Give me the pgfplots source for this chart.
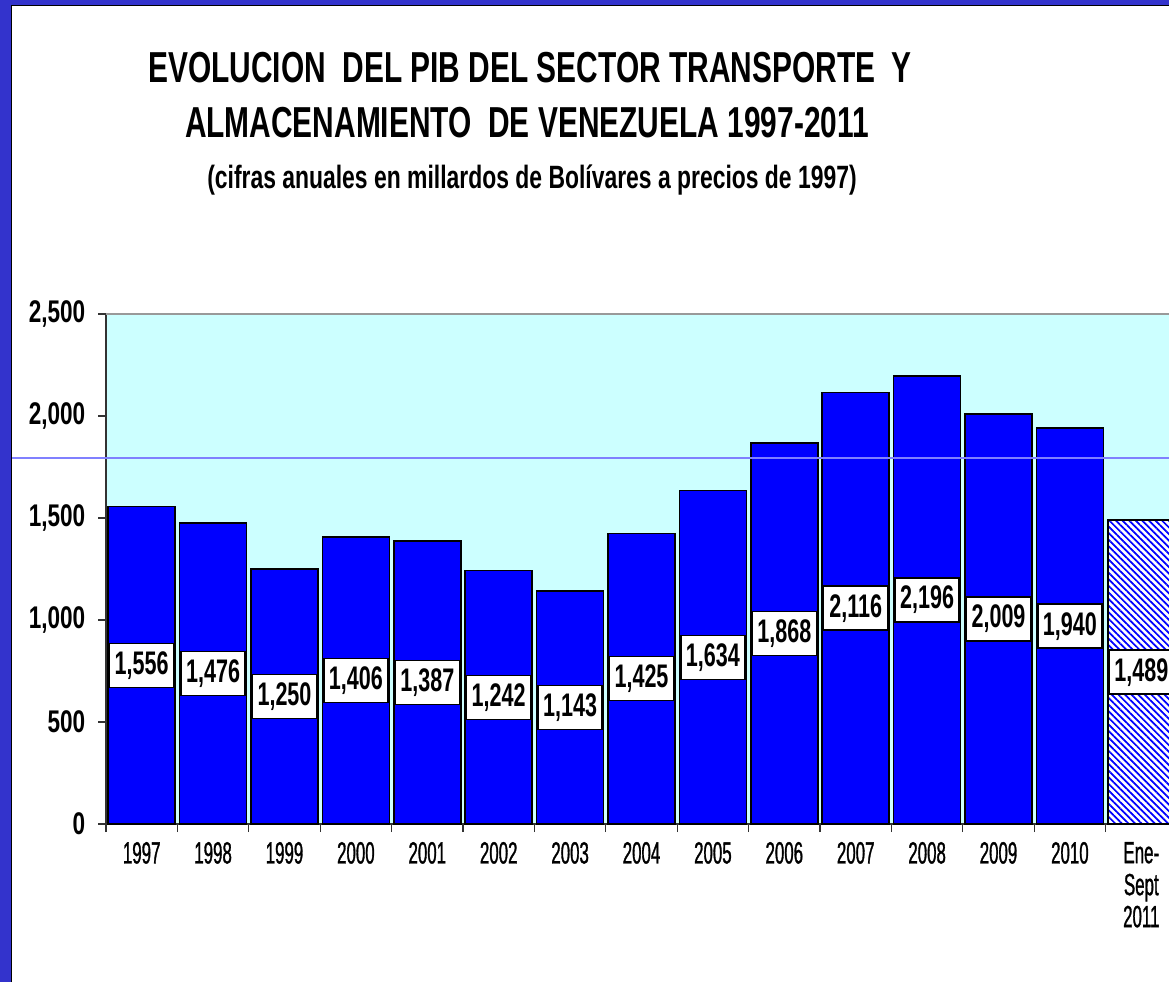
\documentclass[border=0pt]{standalone}
\usepackage{fontspec}
\setmainfont{Liberation Sans}[FakeStretch=0.7]
\newfontfamily\titulo{Liberation Sans}[FakeStretch=0.69]
\newfontfamily\subtitulo{Liberation Sans}[FakeStretch=0.71]
\newfontfamily\ejey{Liberation Sans}[FakeStretch=0.72]
\newfontfamily\ejex{Liberation Sans}[FakeStretch=0.55, FakeBold=1]
\newfontfamily\etiq{Liberation Sans}[FakeStretch=0.66]
\usepackage{pgfplots}
\pgfplotsset{compat=1.18}
\usepackage{pgfplotstable}
\usetikzlibrary{patterns.meta}

\definecolor{barblue}{HTML}{0000FF}
\definecolor{fondo}{HTML}{CCFFFF}
\definecolor{marco}{HTML}{3333CC}
\definecolor{raya}{HTML}{8080FF}
\definecolor{eje}{HTML}{333333}

\pgfplotsset{/pgf/number format/assume math mode=true}

% PIB transporte y almacenamiento (millardos Bs. de 1997)
\pgfplotstableread{
x v
0 1556
1 1476
2 1250
3 1406
4 1387
5 1242
6 1143
7 1425
8 1634
9 1868
10 2116
11 2196
12 2009
13 1940
}\pib
\pgfplotstableread{
x v
14 1489
}\pibparcial

\begin{document}
\begin{tikzpicture}[x=0.75pt,y=0.75pt]
\path[use as bounding box] (0,0) rectangle (1169,982);
\clip (0,0) rectangle (1169,982);

\node[anchor=base, font=\titulo\bfseries\fontsize{32.5}{36}\selectfont] at (530,899)
  {EVOLUCION~~DEL PIB DEL SECTOR TRANSPORTE~~Y};
\node[anchor=base, font=\titulo\bfseries\fontsize{32.5}{36}\selectfont] at (527,844)
  {ALMACENAMIENTO~~DE VENEZUELA 1997-2011};
\node[anchor=base, font=\subtitulo\bfseries\fontsize{24.2}{26}\selectfont] at (532,793)
  {(cifras anuales en millardos de Bolívares a precios de 1997)};

\begin{axis}[
  at={(79.5pt,118.5pt)}, anchor=south west,
  scale only axis, width=803.25pt, height=382.5pt,
  xmin=-0.5, xmax=14.5, ymin=0, ymax=2500,
  axis background/.style={fill=fondo},
  axis x line*=bottom, axis y line*=left,
  axis line style={-, draw=eje, line width=1.2pt},
  tick align=outside, major tick length=6pt,
  tick style={draw=eje, line width=1pt},
  ytick={0,500,...,2500}, scaled y ticks=false,
  yticklabel style={font=\ejey\bfseries\fontsize{23.5}{25}\selectfont, xshift=-6pt},
  xtick={-0.5,0.5,...,14.5}, x tick label as interval,
  xticklabels={1997,1998,1999,2000,2001,2002,2003,2004,2005,2006,2007,2008,2009,2010,{Ene-\\Sept\\2011}},
  xticklabel style={font=\ejex\fontsize{23}{24}\selectfont, align=center, yshift=-4pt},
]
\draw[color={rgb,255:red,153;green,153;blue,153}, line width=1.2pt]
  (rel axis cs:0,1) -- (rel axis cs:1,1);
\addplot[ybar, bar width=0.94, bar shift=0pt, fill=barblue, draw=black, line width=1.2pt]
  table[x=x, y=v]{\pib};
\addplot[ybar, bar width=0.94, bar shift=0pt, fill=white, draw=black, line width=1.2pt,
  postaction={pattern={Lines[angle=-45, distance=3.5pt, line width=1.3pt]}, pattern color=barblue}]
  table[x=x, y=v]{\pibparcial};
\addplot[draw=none, nodes near coords, point meta=explicit,
  nodes near coords style={anchor=center, fill=white, draw=black, line width=1.1pt,
    inner sep=0pt, minimum width=48pt, minimum height=33pt,
    font=\etiq\bfseries\fontsize{24.5}{26}\selectfont}]
  table[x=x, y expr=\thisrow{v}/2, meta=v]{\pib};
\addplot[draw=none, nodes near coords, point meta=explicit,
  nodes near coords style={anchor=center, fill=white, draw=black, line width=1.1pt,
    inner sep=0pt, minimum width=48pt, minimum height=33pt,
    font=\etiq\bfseries\fontsize{24.5}{26}\selectfont}]
  table[x=x, y expr=\thisrow{v}/2, meta=v]{\pibparcial};
\end{axis}

\draw[raya, line width=0.8pt] (12,524) -- (1169,524);
\fill[marco] (0,0) rectangle (11,982);
\fill[marco] (0,976) rectangle (1169,982);
\draw[black, line width=1pt] (11.5,0) -- (11.5,976.5) -- (1169,976.5);
\end{tikzpicture}
\end{document}
